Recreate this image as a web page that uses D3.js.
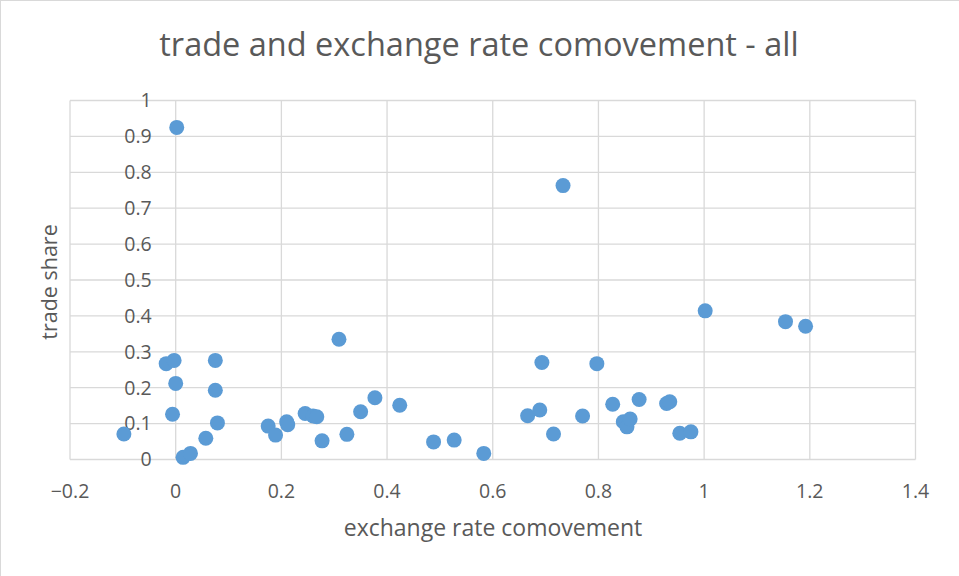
<!DOCTYPE html>
<html lang="en">
<head>
  <meta charset="UTF-8" />
  <title>trade and exchange rate comovement - all</title>
  <script src="https://d3js.org/d3.v7.min.js"></script>
  <style>
    body {
      margin: 0;
      background: #fff;
      font-family: "Open Sans", Lato, sans-serif;
    }
    svg {
      display: block;
    }
    .grid line {
      stroke: #d9d9d9;
      stroke-width: 1.3;
    }
    .tick-label {
      fill: #595959;
      font-size: 19.5px;
    }
  </style>
</head>
<body>
  <svg width="959" height="576"></svg>

  <script>
    // comovement (x) and trade share (y)
    const comovement = [
      0.002, -0.098, -0.018, -0.003, 0.000, -0.006, 0.014, 0.028, 0.057, 0.075,
      0.075, 0.079, 0.175, 0.189, 0.210, 0.212, 0.245, 0.260, 0.267, 0.309,
      0.277, 0.324, 0.350, 0.377, 0.424, 0.488, 0.527, 0.583, 0.666, 0.689,
      0.693, 0.715, 0.770, 0.797, 0.827, 0.847, 0.854, 0.860, 0.877, 0.929,
      0.935, 0.954, 0.975, 1.002, 1.154, 1.192, 0.733
    ];
    const tradeShare = [
      0.925, 0.071, 0.267, 0.276, 0.212, 0.126, 0.006, 0.017, 0.059, 0.276,
      0.193, 0.102, 0.093, 0.068, 0.105, 0.097, 0.128, 0.121, 0.119, 0.335,
      0.052, 0.070, 0.133, 0.172, 0.151, 0.049, 0.054, 0.017, 0.122, 0.138,
      0.270, 0.071, 0.121, 0.267, 0.154, 0.105, 0.091, 0.113, 0.167, 0.156,
      0.161, 0.073, 0.077, 0.414, 0.384, 0.371, 0.763
    ];
    const xTicks = [-0.2, 0, 0.2, 0.4, 0.6, 0.8, 1, 1.2, 1.4];
    const yTicks = [0, 0.1, 0.2, 0.3, 0.4, 0.5, 0.6, 0.7, 0.8, 0.9, 1];

    const svg = d3.select("svg");
    const plot = { left: 70, right: 915.5, top: 100.5, bottom: 459.5 };

    const x = d3.scaleLinear().domain([-0.2, 1.4]).range([plot.left, plot.right]);
    const y = d3.scaleLinear().domain([0, 1]).range([plot.bottom, plot.top]);

    // chart area border (top + left visible)
    svg.append("rect")
      .attr("x", 0.5).attr("y", 0.5)
      .attr("width", 970).attr("height", 590)
      .attr("fill", "none")
      .attr("stroke", "#d9d9d9");

    svg.append("text")
      .attr("x", 479).attr("y", 56)
      .attr("text-anchor", "middle")
      .attr("fill", "#595959")
      .style("font-size", "32.5px")
      .text("trade and exchange rate comovement - all");

    // gridlines
    const grid = svg.append("g").attr("class", "grid");
    grid.selectAll(".h").data(yTicks).enter().append("line")
      .attr("x1", plot.left).attr("x2", plot.right)
      .attr("y1", d => y(d)).attr("y2", d => y(d));
    grid.selectAll(".v").data(xTicks).enter().append("line")
      .attr("y1", plot.top).attr("y2", plot.bottom)
      .attr("x1", d => x(d)).attr("x2", d => x(d));

    // y tick labels sit beside the x=0 crossing
    svg.append("g").selectAll("text").data(yTicks).enter().append("text")
      .attr("class", "tick-label")
      .attr("x", x(0) - 24)
      .attr("y", d => y(d))
      .attr("dy", "0.35em")
      .attr("text-anchor", "end")
      .text(d => d3.format("~g")(d));

    svg.append("g").selectAll("text").data(xTicks).enter().append("text")
      .attr("class", "tick-label")
      .attr("x", d => x(d))
      .attr("y", 498)
      .attr("text-anchor", "middle")
      .text(d => d3.format("~g")(d));

    // axis titles
    svg.append("text")
      .attr("x", 493).attr("y", 536)
      .attr("text-anchor", "middle")
      .attr("fill", "#595959")
      .style("font-size", "23px")
      .text("exchange rate comovement");

    svg.append("text")
      .attr("transform", "translate(57,282) rotate(-90)")
      .attr("text-anchor", "middle")
      .attr("fill", "#595959")
      .style("font-size", "21.5px")
      .text("trade share");

    // points
    svg.append("g").selectAll("circle")
      .data(comovement.map((c, i) => [c, tradeShare[i]]))
      .enter().append("circle")
      .attr("cx", d => x(d[0]))
      .attr("cy", d => y(d[1]))
      .attr("r", 7.5)
      .attr("fill", "#5b9bd5");
  </script>
</body>
</html>
